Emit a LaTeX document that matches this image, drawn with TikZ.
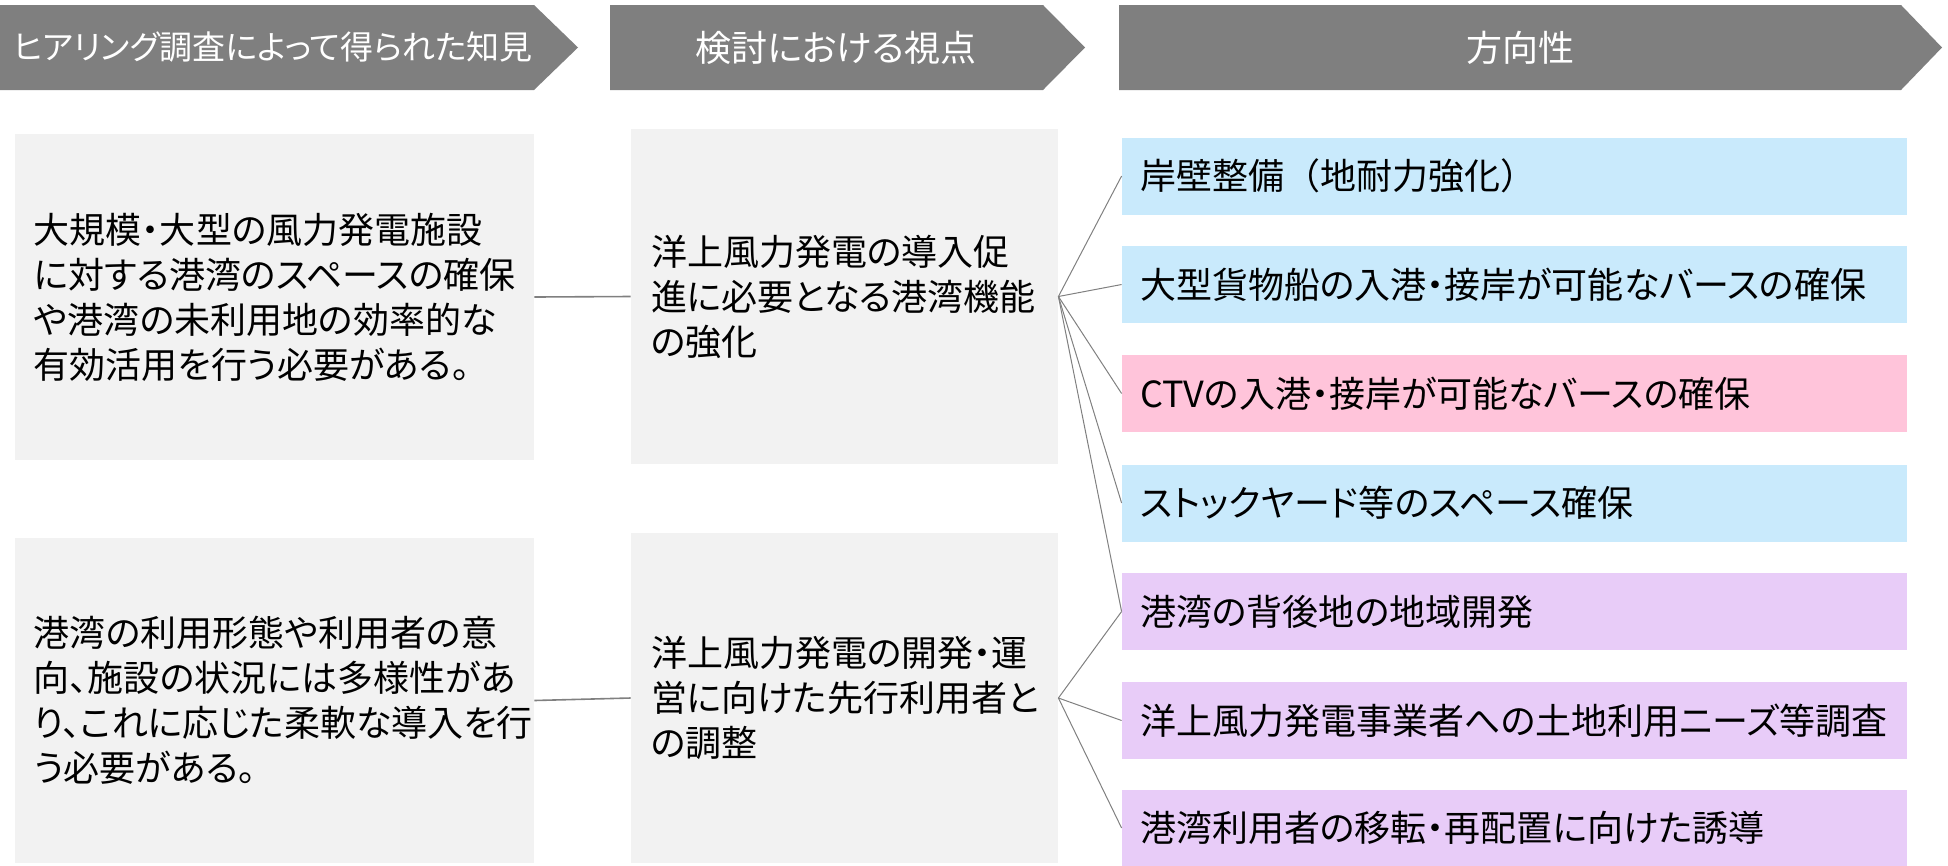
\documentclass[tikz,border=0pt]{standalone}
\usepackage{fontspec}
\newfontfamily\jp{Noto Sans CJK JP}[RawFeature={+palt}]
\newfontfamily\jpfull{Noto Sans CJK JP}
\definecolor{hdrgray}{HTML}{7F7F7F}
\definecolor{boxgray}{HTML}{F2F2F2}
\definecolor{lblue}{HTML}{C9EAFC}
\definecolor{lpink}{HTML}{FFC4DA}
\definecolor{lpurple}{HTML}{E8CCF8}
\definecolor{linegray}{HTML}{808080}
\tikzset{
  jpfont/.style={font=\jp\fontsize{18bp}{22.5bp}\selectfont},
  hdrshape/.style={fill=hdrgray},
  hdrtext/.style={jpfont, text=white, inner sep=0pt},
  leftbox/.style={jpfont, fill=boxgray, align=left, text width=240.5bp, inner xsep=9.5bp, inner ysep=0pt, minimum width=259.5bp},
  midbox/.style={jpfont, fill=boxgray, align=left, text width=193.5bp, inner xsep=10bp, inner ysep=0pt, minimum width=213.5bp},
  rightbox/.style={jpfont, align=left, text width=374.5bp, inner xsep=9bp, inner ysep=0pt, minimum width=392.5bp, minimum height=38.5bp},
  bluebox/.style={rightbox, fill=lblue},
  pinkbox/.style={rightbox, fill=lpink},
  purplebox/.style={rightbox, fill=lpurple},
  link/.style={draw=linegray, line width=0.8bp},
  fan/.style={draw=linegray, line width=0.5bp}
}
\begin{document}
\begin{tikzpicture}[x=0.5bp, y=-0.5bp]
\useasboundingbox (0,0) rectangle (1948,865);
% headers
\fill[hdrshape] (0,5) -- (534,5) -- (578,47.5) -- (534,90) -- (0,90) -- cycle;
\fill[hdrshape] (610,5) -- (1043,5) -- (1085,47.5) -- (1043,90) -- (610,90) -- cycle;
\fill[hdrshape] (1119,5) -- (1901,5) -- (1942,47.5) -- (1901,90) -- (1119,90) -- cycle;
\node[hdrtext, font=\jp\fontsize{16.5bp}{20bp}\selectfont] (h1) at (273,47.5) {ヒアリング調査によって得られた知見};
\node[hdrtext] (h2) at (836,47.5) {検討における視点};
\node[hdrtext] (h3) at (1520,47.5) {方向性};
% left boxes
\node[leftbox, minimum height=163bp] (L1) at (274.5,297) {大規模・大型の風力発電施設\\に対する港湾のスペースの確保\\や港湾の未利用地の効率的な\\有効活用を行う必要がある。};
\node[leftbox, minimum height=162.5bp] (L2) at (274.5,700.5) {港湾の利用形態や利用者の意\\向、施設の状況には多様性があ\\り、これに応じた柔軟な導入を行\\う必要がある。};
% middle boxes
\node[midbox, minimum height=167.5bp] (M1) at (844.5,296.5) {洋上風力発電の導入促\\進に必要となる港湾機能\\の強化};
\node[midbox, minimum height=165bp] (M2) at (844.5,698) {洋上風力発電の開発・運\\営に向けた先行利用者と\\の調整};
% right boxes
\node[bluebox] (R1) at (1514.5,176) {岸壁整備{\jpfull （}地耐力強化{\jpfull ）}};
\node[bluebox] (R2) at (1514.5,284.5) {大型貨物船の入港・接岸が可能なバースの確保};
\node[pinkbox] (R3) at (1514.5,393.5) {CTVの入港・接岸が可能なバースの確保};
\node[bluebox] (R4) at (1514.5,503) {ストックヤード等のスペース確保};
\node[purplebox] (R5) at (1514.5,611.5) {港湾の背後地の地域開発};
\node[purplebox] (R6) at (1514.5,720.5) {洋上風力発電事業者への土地利用ニーズ等調査};
\node[purplebox] (R7) at (1514.5,828) {港湾利用者の移転・再配置に向けた誘導};
% connectors
\draw[link] (L1.east) -- (M1.west);
\draw[link] (L2.east) -- (M2.west);
\foreach \r in {R1,R2,R3,R4,R5} \draw[fan] (M1.east) -- (\r.west);
\foreach \r in {R5,R6,R7} \draw[fan] (M2.east) -- (\r.west);
\end{tikzpicture}
\end{document}
